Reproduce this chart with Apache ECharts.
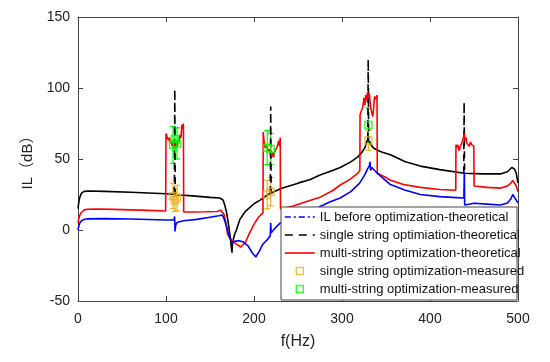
<!DOCTYPE html>
<html><head><meta charset="utf-8">
<script src="https://cdn.jsdelivr.net/npm/echarts@6/dist/echarts.min.js"></script>
<style>html,body{margin:0;padding:0;background:#fff}#c{width:550px;height:362px}</style>
</head><body><div id="c"></div>
<script>
// ---- data ----
const legendNames = [
  'IL before optimization-theoretical',
  'single string optimiation-theoretical',
  'multi-string optimization-theoretical',
  'single string optimization-measured',
  'multi-string optimization-measured'
];
const xTicks = [0,100,200,300,400,500];
const yTicks = [-50,0,50,100,150];

const blueF = [0,1,2,4,7,10,30,60,100,109,109.8,110.3,111,113,120,135,150,160,164,166,168,170,172,175,178,183,188,193,198,202,206,210,215,218.5,219,219.5,221,225,230,250,270,286,298,310,320,326,329,331,331.8,332.5,334,340,355,372,389,411,430,438.5,439,439.4,440,450,465,480,488,492,494,496,498,500];
const blueIL = [0,3,5,6.5,7.5,7.8,8,7.7,7,7,9.5,-1,3.5,5.5,6.5,7.5,9,10,10.5,8,4,0,-5,-8.5,-8,-7.5,-8.5,-11,-16,-19,-15,-10,-7,-4,5,-2,-1,2,5,10,15,19.7,22.5,27,33,39,43,45,48,42,44,40,32,28,25,23.5,22.8,22.5,41,17.6,19,18.8,18.2,17.6,19,22,25,24,21,19];

const redF = [0,1,2,4,7,10,20,40,60,80,99.6,100,101,102,103,104,105,106,107,108,109,110,111,112,113,114,115,116,117,118,119,119.8,120.1,130,145,158,162,164,166,168,170,173,176,180,185,190,195,200,205,210.2,210.5,211.5,212.5,214,215,216,217,218,219,220,221,222,223,224,225,226,227,228,229,229.8,230.1,243,260,275,290,298,310,318,320.3,320.5,322,323.5,325,326,327,328,329,330,331,332,333,334,335,336,337,338,339,339.8,340.1,350,355,370,389,411,429.3,429.5,430.5,431.5,433,434.5,436,437.5,438.5,439,440,441,442,443,444.5,446,447.5,449,449.8,450.1,465,480,488,492,494,496,498,500];
const redIL = [5,8,10.5,12.5,14,14.6,14.8,14.5,14.2,13.8,13.4,68,66,67,63,65,61,63,59,62,58,60,57,62,59,64,62,67,65,74,71,75,12.7,12.7,12.8,13,14,13.4,11,5,-3,-6,-8,-10,-12,-9,-2,4,9,12,69,62,58,57,59,55,57,54,56,52,55,51,54,56,55,58,60,63,59,65,15,16.5,20,23,28,31.7,36,40,42,81,84,86,93,88,95,91,97,93,96,90,85,82,80,86,94,95,92,95,40,37,35,32,30,28.5,28,60,58,60,56,59,61,60,66,68,63,65,61,62,59,62,60,61,59,31,30,29.5,31,33,35,34,31,27];

const blackF = [0,1,2,4,7,12,30,60,100,116,130,150,161,165,167,169,171,173,175,175.3,176,178,180,184,190,200,207,215,230,250,264,275,290,298,310,318,323,326,328,329.5,331,333,336,345,355,372,389,411,439,460,480,488,493,496,498,500];
const blackIL = [15,20,23,26,27.2,27.5,27.2,26.6,25.5,24.6,24,23,22.5,21,17,12,4,-5,-16,-12,-8,-3,0,7.5,13,18.5,21,24.6,29,33,35.5,38.7,42,44,48,51.5,55,58,62,64,63,60,57.5,55,53,48,45,42.5,40,39.5,39.5,41,44,43,40,33];

// narrow resonance spikes of the single-string curve
const spikeF = [110, 219, 329.8, 438.8];
const spikeTop = [99, 87, 120, 90];
const spikeBase = [25.5, 26, 64, 40];

const singleF = [108, 110, 112.5, 215, 219, 330];
const singleIL = [24, 21, 22.5, 25, 27, 63];
const singleErr = [9, 8, 9, 10, 10, 7];

const multiF = [108, 110, 112.5, 215, 219, 330];
const multiIL = [60, 64, 61, 58, 57, 74];
const multiErr = [13, 8, 11, 12, 11, 12];

// ---- build ----
const pairs = (xs, ys) => xs.map((x, i) => [x, ys[i]]);
const spikeData = [];
spikeF.forEach((f, i) => {
  spikeData.push([f - 0.5, spikeBase[i]], [f, spikeTop[i]], [f + 0.5, spikeBase[i]], [f + 0.6, '-']);
});
const triples = (xs, ys, es) => xs.map((x, i) => [x, ys[i], es[i]]);

const C_BLUE = '#0000ff', C_BLACK = '#000000', C_RED = '#ff0000', C_ORANGE = '#EDB120', C_GREEN = '#00ff00';
const FONT = 'Liberation Sans, Arial, sans-serif';

function errRender(color) {
  return function (params, api) {
    const f = api.value(0), v = api.value(1), e = api.value(2);
    const t = api.coord([f, v + e]), b = api.coord([f, v - e]);
    const cap = 3, st = { stroke: color, lineWidth: 1.2 };
    return { type: 'group', children: [
      { type: 'line', shape: { x1: t[0], y1: t[1], x2: b[0], y2: b[1] }, style: st },
      { type: 'line', shape: { x1: t[0] - cap, y1: t[1], x2: t[0] + cap, y2: t[1] }, style: st },
      { type: 'line', shape: { x1: b[0] - cap, y1: b[1], x2: b[0] + cap, y2: b[1] }, style: st }
    ]};
  };
}

const axisLineStyle = { color: '#444', width: 1 };
const chart = echarts.init(document.getElementById('c'), null, { renderer: 'canvas' });
const square = 'path://M0,0L10,0L10,10L0,10Z';
const hiddenSym = { opacity: 0 };

chart.setOption({
  animation: false,
  backgroundColor: '#fff',
  grid: { left: 78, right: 32, top: 17, bottom: 61 },
  xAxis: [
    { type: 'value', min: xTicks[0], max: xTicks[xTicks.length - 1], interval: 100, position: 'bottom',
      axisLine: { onZero: false, lineStyle: axisLineStyle },
      axisTick: { inside: true, length: 5, lineStyle: axisLineStyle },
      axisLabel: { color: '#222', fontSize: 14, margin: 11, fontFamily: FONT },
      splitLine: { show: false },
      name: 'f(Hz)', nameLocation: 'middle', nameGap: 33,
      nameTextStyle: { fontSize: 16, color: '#222', fontFamily: FONT } },
    { type: 'value', min: xTicks[0], max: xTicks[xTicks.length - 1], interval: 100, position: 'top',
      axisLine: { onZero: false, lineStyle: axisLineStyle },
      axisTick: { inside: true, length: 5, lineStyle: axisLineStyle },
      axisLabel: { show: false }, splitLine: { show: false } }
  ],
  yAxis: [
    { type: 'value', min: yTicks[0], max: yTicks[yTicks.length - 1], interval: 50, position: 'left',
      axisLine: { show: true, onZero: false, lineStyle: axisLineStyle },
      axisTick: { show: true, inside: true, length: 5, lineStyle: axisLineStyle },
      axisLabel: { color: '#222', fontSize: 14, margin: 8, fontFamily: FONT },
      splitLine: { show: false },
      name: 'IL（dB）', nameLocation: 'middle', nameGap: 38,
      nameTextStyle: { fontSize: 15, color: '#222', fontFamily: 'Liberation Sans, Arial, Noto Sans CJK SC, sans-serif' } },
    { type: 'value', min: yTicks[0], max: yTicks[yTicks.length - 1], interval: 50, position: 'right',
      axisLine: { show: true, onZero: false, lineStyle: axisLineStyle },
      axisTick: { show: true, inside: true, length: 5, lineStyle: axisLineStyle },
      axisLabel: { show: false }, splitLine: { show: false } }
  ],
  legend: {
    orient: 'vertical', left: 284, top: 210,
    itemWidth: 30, itemHeight: 7, itemGap: 4, padding: 0,
    textStyle: { fontSize: 13, color: '#111', lineHeight: 14, fontFamily: FONT },
    data: [
      { name: legendNames[0], itemStyle: hiddenSym, lineStyle: { type: [6, 3, 2, 3], width: 1.6, color: C_BLUE } },
      { name: legendNames[1], itemStyle: hiddenSym, lineStyle: { type: [8, 6], width: 1.6, color: C_BLACK } },
      { name: legendNames[2], itemStyle: hiddenSym, lineStyle: { type: 'solid', width: 1.6, color: C_RED } },
      { name: legendNames[3], icon: square, itemStyle: { color: '#fff', borderColor: C_ORANGE, borderWidth: 1.5 } },
      { name: legendNames[4], icon: square, itemStyle: { color: '#fff', borderColor: C_GREEN, borderWidth: 1.5 } }
    ]
  },
  graphic: [
    { type: 'rect', z: 3, shape: { x: 281, y: 207, width: 236, height: 93 },
      style: { fill: '#fff', stroke: '#444', lineWidth: 1 } }
  ],
  series: [
    { name: legendNames[1], type: 'line', data: pairs(blackF, blackIL), symbol: 'none',
      lineStyle: { color: C_BLACK, width: 1.6 }, itemStyle: { color: C_BLACK }, z: 2 },
    { name: 'spikes', type: 'line', data: spikeData, symbol: 'none', connectNulls: false,
      lineStyle: { color: C_BLACK, width: 1.6, type: [7, 5] }, z: 2 },
    { name: legendNames[2], type: 'line', data: pairs(redF, redIL), symbol: 'none',
      lineStyle: { color: C_RED, width: 1.6 }, itemStyle: { color: C_RED }, z: 2 },
    { name: legendNames[0], type: 'line', data: pairs(blueF, blueIL), symbol: 'none',
      lineStyle: { color: C_BLUE, width: 1.6 }, itemStyle: { color: C_BLUE }, z: 2 },
    { name: 'err1', type: 'custom', data: triples(singleF, singleIL, singleErr),
      dimensions: ['f', 'v', 'e'], encode: { x: 0, y: 1 }, renderItem: errRender(C_ORANGE), z: 2 },
    { name: 'err2', type: 'custom', data: triples(multiF, multiIL, multiErr),
      dimensions: ['f', 'v', 'e'], encode: { x: 0, y: 1 }, renderItem: errRender(C_GREEN), z: 2 },
    { name: legendNames[3], type: 'scatter', data: pairs(singleF, singleIL), symbol: 'rect', symbolSize: 7,
      itemStyle: { color: 'rgba(255,255,255,0)', borderColor: C_ORANGE, borderWidth: 1.5 }, z: 2 },
    { name: legendNames[4], type: 'scatter', data: pairs(multiF, multiIL), symbol: 'rect', symbolSize: 7,
      itemStyle: { color: 'rgba(255,255,255,0)', borderColor: C_GREEN, borderWidth: 1.5 }, z: 2 }
  ]
});
</script></body></html>
